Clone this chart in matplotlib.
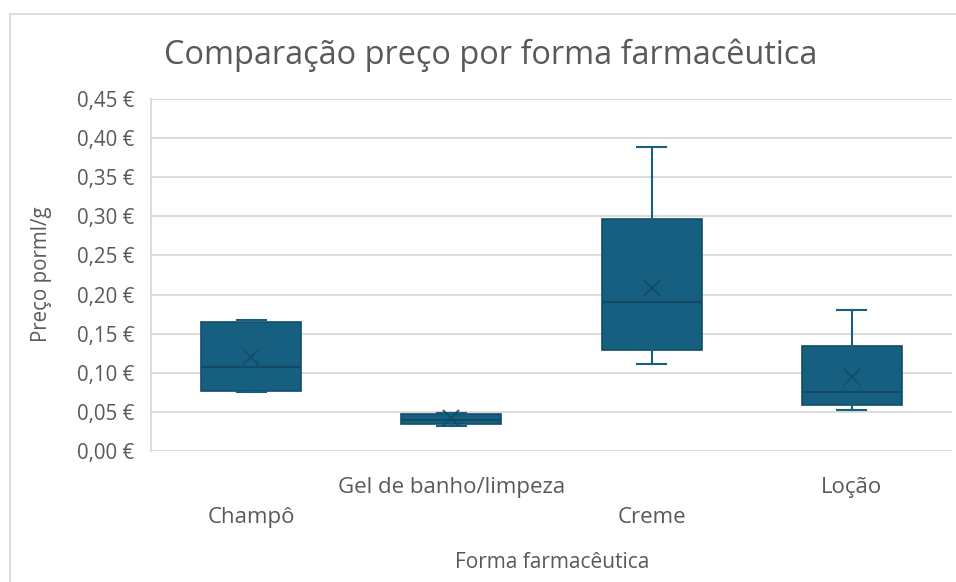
"""Box-and-whisker comparison of price per ml/g by pharmaceutical form."""

import matplotlib

matplotlib.use("Agg")

import matplotlib.pyplot as plt
from matplotlib.patches import Rectangle
from matplotlib.ticker import FuncFormatter, MultipleLocator

plt.rcParams["font.family"] = ["Open Sans", "DejaVu Sans"]

# values (EUR per ml/g)
categories = ["Champô", "Gel de banho/limpeza", "Creme", "Loção"]
mins = [0.075, 0.032, 0.111, 0.052]
q1s = [0.077, 0.035, 0.129, 0.059]
medians = [0.107, 0.040, 0.190, 0.075]
q3s = [0.165, 0.047, 0.296, 0.134]
maxs = [0.167, 0.048, 0.389, 0.180]
means = [0.120, 0.042, 0.209, 0.094]

FILL = "#175f80"
EDGE = "#134d69"
DARK = "#124a66"
TEXT = "#595959"
GRID = "#d9d9d9"

W, H = 956, 582
fig = plt.figure(figsize=(W / 100, H / 100), dpi=100)
ax = fig.add_axes([151 / W, 1 - 451 / H, (952 - 151) / W, (451 - 99) / H])

stats = [
    dict(label=c, whislo=lo, q1=a, med=m, q3=b, whishi=hi, mean=mu)
    for c, lo, a, m, b, hi, mu in zip(categories, mins, q1s, medians, q3s, maxs, means)
]
ax.bxp(
    stats,
    positions=range(len(stats)),
    widths=0.5,
    capwidths=0.145,
    showmeans=True,
    showfliers=False,
    patch_artist=True,
    boxprops=dict(facecolor=FILL, edgecolor=EDGE, linewidth=1.2),
    medianprops=dict(color=DARK, linewidth=1.5),
    whiskerprops=dict(color=FILL, linewidth=1.5),
    capprops=dict(color=FILL, linewidth=1.5),
    meanprops=dict(marker="x", markersize=12, markeredgecolor=DARK, markeredgewidth=1.2),
    zorder=3,
)

ax.set_xlim(-0.5, len(stats) - 0.5)
ax.set_ylim(0, 0.45)
ax.yaxis.set_major_locator(MultipleLocator(0.05))
ax.yaxis.set_major_formatter(FuncFormatter(lambda v, _: f"{v:.2f} €".replace(".", ",")))
ax.grid(axis="y", color=GRID, linewidth=1.3, zorder=0)
ax.set_axisbelow(True)
for side in ("top", "right", "bottom"):
    ax.spines[side].set_visible(False)
ax.spines["left"].set_color(GRID)
ax.spines["left"].set_linewidth(1.3)

ax.tick_params(axis="both", length=0, labelcolor=TEXT)
ax.tick_params(axis="y", pad=12, labelsize=14.8)
ax.tick_params(axis="x", labelsize=16)
ax.set_xticks(range(len(categories)), categories)
# Excel staggers the category labels
for i, tick in enumerate(ax.xaxis.get_major_ticks()):
    tick.set_pad(40 if i % 2 == 0 else 19)

fig.text(0.513, 1 - 55 / H, "Comparação preço por forma farmacêutica",
         ha="center", va="center", fontsize=23.4, color=TEXT)
fig.text(41 / W, 1 - 274 / H, "Preço porml/g", rotation=90,
         ha="center", va="center", fontsize=14.8, color=TEXT)
fig.text(552 / W, 1 - 563 / H, "Forma farmacêutica",
         ha="center", va="center", fontsize=15, color=TEXT)

# chart-area border (runs off the right and bottom of the crop)
fig.add_artist(Rectangle((9.5 / W, -0.1), 1.0, 1.1 - 13.5 / H, transform=fig.transFigure,
                         fill=False, edgecolor=GRID, linewidth=1.2))

fig.savefig("out.png", dpi=100)
